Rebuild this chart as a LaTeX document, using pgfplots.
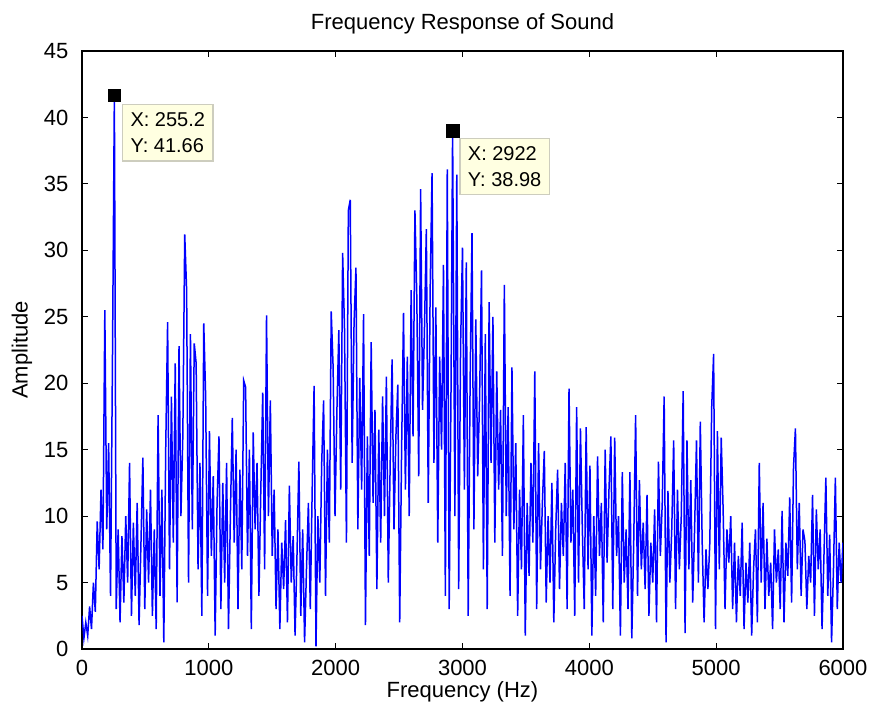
\documentclass[border=0pt]{standalone}
\usepackage{pgfplots}
\pgfplotsset{compat=1.18}
\usepackage{fontspec}
\setmainfont{Liberation Sans}
\definecolor{tipfill}{RGB}{255,255,225}
\definecolor{tipdraw}{RGB}{205,205,190}
\begin{document}
\fontsize{11}{13}\selectfont
\begin{tikzpicture}
\useasboundingbox (-41pt,-32pt) rectangle (393.5pt,324.5pt);
\begin{axis}[
  at={(0,0)}, anchor=south west,
  scale only axis, width=380.5pt, height=299pt,
  xmin=0, xmax=6000, ymin=0, ymax=45,
  xtick={0,1000,...,6000}, ytick={0,5,...,45},
  tick align=inside, major tick length=3pt,
  tick style={black, line width=0.5pt},
  axis line style={black, line width=0.6pt},
  /pgf/number format/assume math mode=true,
  scaled x ticks=false,
  xticklabel style={/pgf/number format/fixed, /pgf/number format/1000 sep={}, yshift=-1.5pt},
  yticklabel style={xshift=-3pt},
  title={Frequency Response of Sound},
  title style={at={(axis description cs:0.5,1.0485)}, anchor=center, yshift=-7pt},
  xlabel={Frequency (Hz)},
  xlabel style={at={(axis description cs:0.5,-0.0719)}, anchor=center},
  ylabel={Amplitude},
  ylabel style={at={(axis description cs:-0.0788,0.5)}, anchor=center, rotate=0},
]
\addplot[blue, line width=0.75pt, mark=none] coordinates {
(0,2.5)(15,0.8)(30,2.0)(45,1.0)(60,3.2)(75,1.5)(90,5.0)(105,2.8)(120,9.6)(135,6.0)
(150,12.0)(165,7.5)(180,25.5)(195,9.0)(210,15.5)(225,4.0)(240,21.5)(255.2,41.66)(270,3.0)(285,9.0)
(300,2.0)(315,8.5)(330,3.5)(345,10.0)(360,5.0)(375,14.0)(390,2.5)(405,9.5)(420,4.0)(435,11.0)
(450,1.8)(465,8.0)(480,14.4)(495,3.0)(510,10.5)(525,5.0)(540,12.0)(555,2.5)(570,9.0)(585,1.5)
(600,17.6)(615,4.0)(630,12.0)(645,0.5)(660,15.0)(675,24.6)(690,6.0)(705,19.0)(720,8.0)(735,21.5)
(750,3.5)(765,22.8)(780,10.0)(795,16.0)(810,31.2)(825,27.0)(840,5.0)(855,23.7)(870,9.0)(885,23.0)
(900,21.5)(915,6.0)(930,14.0)(945,2.5)(960,24.5)(975,19.0)(990,4.0)(1005,16.4)(1020,7.0)(1035,13.0)
(1050,1.0)(1065,11.0)(1080,16.0)(1095,3.0)(1110,12.5)(1125,5.0)(1140,14.0)(1155,1.5)(1170,10.0)(1185,17.4)
(1200,8.0)(1215,15.0)(1230,3.0)(1245,13.5)(1260,6.0)(1275,20.2)(1290,19.7)(1305,7.0)(1320,15.0)(1335,1.5)
(1350,16.3)(1365,9.0)(1380,14.0)(1395,4.0)(1410,12.0)(1425,19.3)(1440,6.0)(1455,25.1)(1470,10.0)(1485,18.7)
(1500,7.0)(1515,12.0)(1530,3.0)(1545,9.0)(1560,1.5)(1575,8.0)(1590,4.5)(1605,9.7)(1620,2.0)(1635,12.3)
(1650,5.0)(1665,8.5)(1680,1.0)(1695,7.0)(1710,14.1)(1725,2.5)(1740,9.0)(1755,0.5)(1770,6.0)(1785,11.0)
(1800,3.0)(1815,12.0)(1830,19.8)(1845,0.2)(1860,10.0)(1875,5.0)(1890,14.0)(1905,18.7)(1920,4.0)(1935,15.0)
(1950,8.0)(1965,25.4)(1980,21.2)(1995,10.0)(2010,18.0)(2025,24.0)(2040,12.0)(2055,29.8)(2070,24.0)(2085,8.0)
(2100,33.0)(2115,33.8)(2130,14.0)(2145,24.5)(2160,28.7)(2175,9.0)(2190,20.4)(2205,12.0)(2220,25.2)(2235,1.8)
(2250,16.0)(2265,7.0)(2280,23.1)(2295,11.0)(2310,18.0)(2325,4.5)(2340,16.5)(2355,8.0)(2370,19.0)(2385,10.0)
(2400,20.5)(2415,5.0)(2430,14.0)(2445,21.8)(2460,9.0)(2475,16.0)(2490,19.9)(2505,2.0)(2520,15.0)(2535,25.3)
(2550,12.0)(2565,22.0)(2580,10.0)(2595,27.0)(2610,16.0)(2625,33.0)(2640,26.4)(2655,13.0)(2670,34.6)(2685,18.0)
(2700,24.0)(2715,31.6)(2730,11.0)(2745,27.0)(2760,35.8)(2775,14.0)(2790,25.7)(2805,8.0)(2820,22.0)(2835,15.0)
(2850,28.9)(2865,4.0)(2880,36.1)(2895,3.0)(2910,20.0)(2922,38.98)(2940,10.0)(2955,35.7)(2970,4.5)(2985,22.8)
(3000,30.2)(3015,12.0)(3030,29.1)(3045,2.5)(3060,20.0)(3075,31.3)(3090,9.0)(3105,24.8)(3120,13.0)(3135,19.0)
(3150,28.5)(3165,6.0)(3180,23.7)(3195,3.0)(3210,26.1)(3225,14.0)(3240,25.0)(3255,8.0)(3270,20.9)(3285,12.0)
(3300,18.0)(3315,7.0)(3330,27.4)(3345,10.0)(3360,18.2)(3375,4.0)(3390,21.2)(3405,9.0)(3420,15.5)(3435,2.5)
(3450,12.0)(3465,6.0)(3480,17.6)(3495,1.0)(3510,11.0)(3525,5.5)(3540,14.0)(3555,8.0)(3570,20.9)(3585,3.0)
(3600,15.5)(3615,6.0)(3630,11.0)(3645,14.9)(3660,3.5)(3675,10.0)(3690,5.0)(3705,12.5)(3720,2.0)(3735,9.0)
(3750,13.5)(3765,4.5)(3780,11.0)(3795,7.0)(3810,14.0)(3825,3.0)(3840,19.6)(3855,8.0)(3870,12.0)(3885,2.5)
(3900,18.2)(3915,5.0)(3930,16.6)(3945,9.0)(3960,3.0)(3975,16.7)(3990,6.0)(4005,13.8)(4020,1.0)(4035,10.0)
(4050,4.0)(4065,14.5)(4080,7.0)(4095,11.0)(4110,2.0)(4125,15.0)(4140,6.5)(4155,12.0)(4170,16.0)(4185,3.0)
(4200,15.9)(4215,7.0)(4230,10.0)(4245,1.0)(4260,13.3)(4275,5.0)(4290,9.0)(4305,3.0)(4320,13.3)(4335,0.8)
(4350,8.0)(4365,17.6)(4380,4.0)(4395,12.7)(4410,6.0)(4425,9.5)(4440,4.5)(4455,11.6)(4470,2.5)(4485,8.0)
(4500,5.0)(4515,10.5)(4530,2.0)(4545,14.1)(4560,7.0)(4575,11.0)(4590,19.0)(4605,0.5)(4620,11.9)(4635,5.0)
(4650,9.0)(4665,15.7)(4680,3.0)(4695,12.0)(4710,6.0)(4725,10.0)(4740,19.4)(4755,1.2)(4770,15.7)(4785,6.0)
(4800,12.7)(4815,3.5)(4830,9.0)(4845,15.7)(4860,5.0)(4875,17.1)(4890,8.0)(4905,2.0)(4920,7.5)(4935,4.5)
(4950,8.0)(4965,18.2)(4980,22.2)(4995,1.5)(5010,16.4)(5025,6.0)(5040,15.9)(5055,10.5)(5070,3.0)(5085,9.0)
(5100,6.5)(5115,10.0)(5130,3.0)(5145,8.0)(5160,2.0)(5175,7.0)(5190,4.0)(5205,9.5)(5220,1.5)(5235,6.5)
(5250,3.5)(5265,8.0)(5280,1.0)(5295,6.0)(5310,9.0)(5325,2.0)(5340,14.0)(5355,5.0)(5370,11.0)(5385,3.0)
(5400,8.3)(5415,4.0)(5430,6.5)(5445,1.5)(5460,9.0)(5475,5.0)(5490,7.5)(5505,3.0)(5520,10.4)(5535,2.0)
(5550,8.0)(5565,5.5)(5580,11.4)(5595,3.5)(5610,13.7)(5625,16.6)(5640,6.0)(5655,11.0)(5670,4.0)(5685,9.0)
(5700,8.1)(5715,3.0)(5730,7.0)(5745,5.0)(5760,11.6)(5775,2.5)(5790,10.5)(5805,6.0)(5820,9.0)(5835,1.5)
(5850,7.0)(5865,12.9)(5880,4.0)(5895,8.6)(5910,0.5)(5925,6.0)(5940,12.9)(5955,3.0)(5970,8.0)(5985,5.0)
(6000,8.0)
};
\addplot[only marks, mark=square*, mark size=3.2pt, black, mark options={fill=black}] coordinates {
(255.2,41.66)(2922,38.98)
};
\node[anchor=north west, fill=tipfill, draw=tipdraw, line width=0.6pt, align=left,
      font=\fontsize{10}{13}\selectfont, inner xsep=4pt, inner ysep=4pt]
  at (axis cs:315,41.0) {X: 255.2\\Y: 41.66};
\node[anchor=north west, fill=tipfill, draw=tipdraw, line width=0.6pt, align=left,
      font=\fontsize{10}{13}\selectfont, inner xsep=4pt, inner ysep=4pt]
  at (axis cs:2975,38.45) {X: 2922\\Y: 38.98};
\end{axis}
\end{tikzpicture}
\end{document}
